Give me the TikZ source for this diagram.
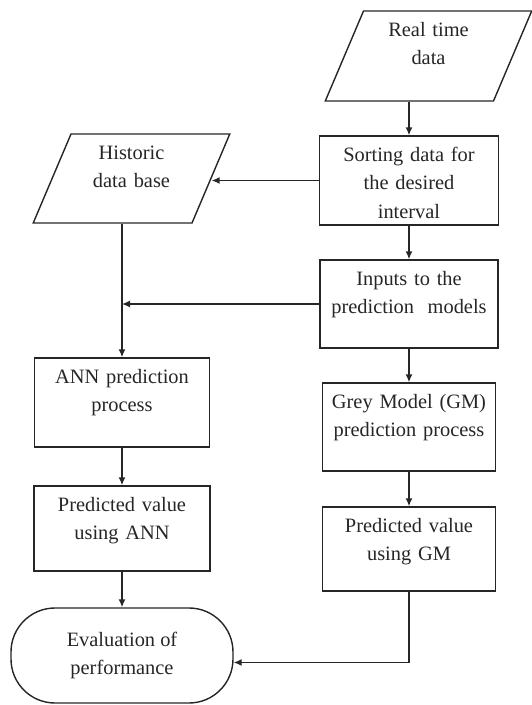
\documentclass[tikz,border=0pt]{standalone}
\usepackage{fontspec}
\setmainfont{Liberation Serif}
\usetikzlibrary{shapes.geometric,arrows.meta}
\begin{document}
\begin{tikzpicture}[x=1pt, y=1pt, node distance=124pt, >={Latex[length=8pt,width=7pt]},
    line width=1.4pt, color=black!85, font=\fontsize{20.4}{28.5}\selectfont]
    % Styles
    \tikzstyle{block} = [draw, rectangle, align=center, inner sep=0pt, text height=25pt]
    \tikzstyle{iodata} = [draw, trapezium, trapezium left angle=67, trapezium right angle=113, align=center, inner sep=0pt, text height=25pt]
    \tikzstyle{terminal} = [draw, rectangle, rounded corners=44pt, align=center, minimum width=222pt, minimum height=95pt]

    \useasboundingbox (0,0) rectangle (531,-705);

    % Nodes
    \node [block, text width=179pt, text depth=64pt] (sort) at (409,-180.5) {Sorting data for\\the desired\\interval};
    \node [iodata, above of=sort, node distance=124.5pt, xshift=19.5pt, text width=130pt, text depth=65pt] (real) {Real time\\data};
    \node [iodata, left of=sort, node distance=277.5pt, yshift=2pt, text width=121pt, text depth=64pt] (hist) {Historic\\data base};
    \node [block, below of=sort, node distance=123.5pt, text width=178pt, text depth=63pt] (inputs) {Inputs to the\\prediction~~models};
    \node [block, below of=inputs, node distance=123pt, text width=173pt, text depth=63pt] (gm) {Grey Model (GM)\\prediction process};
    \node [block, below of=gm, node distance=122pt, text width=173pt, text depth=59pt] (pgm) {Predicted value\\using GM};
    \node [block, below of=hist, node distance=224pt, xshift=-9.5pt, text width=175pt, text depth=64pt] (ann) {ANN prediction\\process};
    \node [block, below of=ann, node distance=126pt, text width=176pt, text depth=60pt] (pann) {Predicted value\\using ANN};
    \node [terminal, below of=pann, node distance=127pt] (eval) {Evaluation of\\performance};
    \coordinate (join) at (inputs.west -| ann.north);

    % Connections
    \draw [->] (sort.north |- real.bottom side) -- (sort);
    \draw [->] (sort.west) -- (sort.west -| hist.east);
    \draw [->] (sort) -- (inputs);
    \draw [->] (ann.north |- hist.bottom side) -- (ann);
    \draw [->] (inputs.west) -- (join);
    \draw [->] (inputs) -- (gm);
    \draw [->] (gm) -- (pgm);
    \draw [->] (ann) -- (pann);
    \draw [->] (pann) -- (eval);
    \draw [->] (pgm.south) |- ([yshift=-7pt]eval.east);
\end{tikzpicture}
\end{document}
